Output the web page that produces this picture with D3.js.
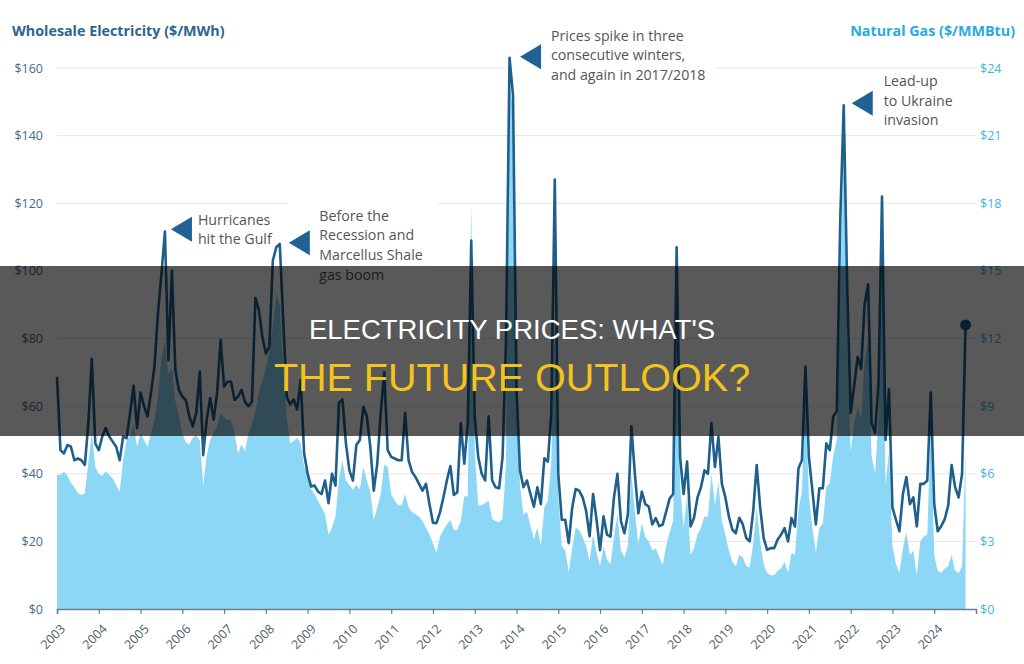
<!DOCTYPE html>
<html>
<head>
<meta charset="utf-8">
<script src="https://cdn.jsdelivr.net/npm/d3@7"></script>
<style>
  html, body { margin: 0; padding: 0; background: #fff; }
  svg { display: block; }
</style>
</head>
<body>
<div id="chart"></div>
<script>
// monthly values, Jan 2003 .. Oct 2024
const elecPrices = [
  68.7, 47, 46, 48.5, 48, 44, 44.5, 44, 42.6, 55, 74, 49,
  47, 51, 53.5, 51, 49.5, 48, 44, 51, 50.5, 58, 66, 53.5,
  64, 60, 57, 64, 71.7, 87.5, 99, 111.6, 73.6, 100, 70.7, 64.8,
  62.8, 61.8, 57, 54, 58, 70.2, 45.5, 56, 62.4, 56, 64, 79.6,
  65.8, 67.2, 67.2, 61.8, 62.8, 64.8, 61.3, 60, 61.3, 92, 88.4, 80.5,
  75.6, 77.6, 103, 107, 108, 85, 62.8, 60.5, 62, 59, 67.7, 46,
  40, 36.2, 36.5, 34.7, 34, 38, 31.3, 40, 36.5, 61, 62, 49,
  41, 38, 48.5, 50, 59.8, 57, 48, 35, 43, 58, 70, 47,
  45, 44.5, 44, 44, 58, 44, 40.5, 39, 37, 35, 37, 31,
  25.5, 25.4, 28.5, 33, 38, 42.3, 33.7, 34.5, 55, 43, 55, 109,
  57, 45, 40, 38, 57, 38, 36, 35.7, 45, 80, 163, 152,
  65, 41, 36, 38, 34, 30.3, 36, 31, 44.6, 43.6, 58, 127,
  40, 26.4, 26.4, 19.5, 30, 35.5, 35, 33, 29, 21.5, 34, 26.4,
  17.4, 27.4, 22, 21.4, 33, 40, 26, 22.4, 28, 54, 40, 28.3,
  34.7, 31, 30.3, 25, 26.9, 24.5, 25, 28.8, 32.7, 34, 107, 45,
  34, 43.6, 24.4, 27, 33, 36, 41, 40, 55, 42, 51, 37,
  33, 27.4, 23.5, 22.4, 27, 25, 21, 20, 29, 42.6, 30, 21,
  17.5, 18, 18, 20.5, 22, 23.9, 20, 26.9, 24.4, 41.6, 44, 71.7,
  45, 35, 25, 35.7, 35.7, 49, 47, 57, 58.4, 115, 149, 95,
  58, 66, 74.6, 71, 90, 96, 55, 52, 67, 122, 50, 65,
  30, 26.4, 23, 34, 39, 31, 33, 24.4, 37, 37, 38, 64,
  31, 23, 24.5, 26.5, 30.5, 42.6, 36, 33, 40, 84
];

const gasPrices = [
  5.95, 5.95, 6.1, 5.9, 5.6, 5.4, 5.15, 5.06, 5.13, 6.5, 7.8, 6.3,
  6.0, 5.9, 6.1, 5.95, 5.8, 5.5, 5.2, 6.6, 7.5, 7.7, 8.2, 7.2,
  7.8, 7.5, 7.2, 7.8, 8.4, 9.4, 11.1, 11.9, 10.4, 10.7, 9.2, 8.6,
  7.8, 7.4, 7.3, 7.6, 7.7, 7.5, 5.5, 6.8, 7.5, 7.8, 8.1, 8.7,
  8.5, 8.4, 8.4, 7.8, 6.9, 7.3, 7.0, 7.8, 8.2, 8.8, 9.6, 10.1,
  10.7, 11.5, 12.5, 14.0, 13.5, 10.7, 8.5, 7.35, 7.45, 7.6, 7.35, 6.3,
  6.0, 5.3, 5.1, 4.8, 4.5, 4.2, 3.3, 3.6, 4.1, 5.8, 6.6, 5.7,
  5.5, 5.3, 5.5, 5.3, 6.3, 5.7, 5.2, 3.95, 4.5, 5.1, 6.4, 6.3,
  5.1, 4.8, 4.6, 4.6, 5.1, 4.5, 4.3, 4.2, 4.1, 3.9, 3.6, 3.3,
  2.9, 2.5, 3.2, 3.5, 3.75, 3.95, 3.5, 3.5, 3.9, 5.0, 5.0, 18.0,
  7.0, 4.6, 4.6, 4.7, 4.8, 4.0, 3.9, 3.85, 4.0, 6.5, 23.5, 22.0,
  9.0, 5.5, 4.2, 4.3, 3.7, 3.1, 3.6, 2.8, 4.5, 4.8, 6.5, 13.0,
  5.0, 2.8, 2.6, 1.65, 2.7, 3.6, 3.5, 3.2, 2.8, 2.1, 3.3, 2.5,
  1.9, 2.8, 2.2, 2.0, 3.2, 4.2, 2.6, 2.3, 2.8, 6.0, 4.3, 2.9,
  3.8, 3.2, 3.0, 2.6, 2.7, 2.3, 1.95, 2.8, 3.4, 3.9, 14.0, 5.5,
  3.6, 5.0, 2.4, 2.7, 3.3, 3.6, 4.1, 4.1, 6.0, 4.6, 5.6, 3.9,
  3.3, 2.6, 2.1, 1.9, 2.4, 2.3, 1.9, 1.85, 2.9, 4.5, 3.0, 2.0,
  1.6, 1.5, 1.5, 1.7, 1.8, 2.1, 1.6, 2.5, 2.4, 4.4, 5.2, 9.5,
  5.0, 3.6, 2.5, 3.6, 3.8, 5.4, 5.6, 6.8, 7.5, 14.0, 21.0, 12.0,
  7.0, 8.2, 9.0, 8.5, 11.0, 12.0, 6.8, 6.0, 8.5, 17.0, 5.5, 7.0,
  2.8, 2.0, 1.6, 2.7, 3.4, 2.4, 2.6, 1.5, 3.0, 3.2, 3.3, 8.0,
  2.4, 1.7, 1.6, 1.8, 1.9, 2.4, 1.7, 1.6, 1.9, 7.0
];

const yearTicks = d3.range(2003, 2025);
const elecTicks = [0, 20, 40, 60, 80, 100, 120, 140, 160];
const gasTicks = [0, 3, 6, 9, 12, 15, 18, 21, 24];

// annotation text, tied to the month index of the peak it points at
const noteMonths = [31, 64, 130, 226];
const noteLines = [
  ["Hurricanes", "hit the Gulf"],
  ["Before the", "Recession and", "Marcellus Shale", "gas boom"],
  ["Prices spike in three", "consecutive winters,", "and again in 2017/2018"],
  ["Lead-up", "to Ukraine", "invasion"]
];

const layout = {
  width: 1024,
  height: 664,
  left: 57,
  right: 976,
  top: 68,
  bottom: 609
};

// where the arrow tip sits relative to the peak, and where the text starts relative to the tip
const notePlacement = [
  { tipDx: 6, tipDy: -2.5, textDx: 27, textDy: -4.5 },
  { tipDx: 9, tipDy: -1, textDx: 30.5, textDy: -22 },
  { tipDx: 10.5, tipDy: -1, textDx: 31, textDy: -16 },
  { tipDx: 8, tipDy: -2, textDx: 32, textDy: -17 }
];

const startYear = 2003;
const rows = elecPrices.map((e, i) => ({ t: startYear + i / 12, elec: e, gas: gasPrices[i] }));

const svg = d3.select("#chart").append("svg")
  .attr("width", layout.width)
  .attr("height", layout.height)
  .attr("viewBox", [0, 0, layout.width, layout.height].join(" "))
  .style("font-family", "'Open Sans', sans-serif");

svg.append("rect").attr("width", layout.width).attr("height", layout.height).attr("fill", "#fff");

const x = d3.scaleLinear().domain([2003, 2025]).range([layout.left, layout.right]);
const yElec = d3.scaleLinear().domain([0, 160]).range([layout.bottom, layout.top]);
const yGas = d3.scaleLinear().domain([0, 24]).range([layout.bottom, layout.top]);

// gridlines
svg.append("g").selectAll("line")
  .data(elecTicks.filter(d => d > 0))
  .join("line")
    .attr("x1", layout.left)
    .attr("x2", layout.right)
    .attr("y1", d => yElec(d))
    .attr("y2", d => yElec(d))
    .attr("stroke", "#e3e6e8")
    .attr("stroke-width", 1);

// white boxes behind the two annotations that cut the grid
svg.append("rect").attr("x", 287).attr("y", 196).attr("width", 151).attr("height", 92).attr("fill", "#fff");
svg.append("rect").attr("x", 510).attr("y", 26).attr("width", 206).attr("height", 60).attr("fill", "#fff");

// titles
svg.append("text")
  .attr("x", 12).attr("y", 36)
  .attr("font-size", 14.3).attr("font-weight", 700)
  .attr("fill", "#2d6490")
  .text("Wholesale Electricity ($/MWh)");
svg.append("text")
  .attr("x", 1015).attr("y", 36)
  .attr("text-anchor", "end")
  .attr("font-size", 14.3).attr("font-weight", 700)
  .attr("fill", "#2aaae2")
  .text("Natural Gas ($/MMBtu)");

// y axes
let leftAxis = svg.append("g")
  .attr("transform", `translate(${layout.left},0)`)
  .call(d3.axisLeft(yElec).tickValues(elecTicks).tickSize(0).tickPadding(14).tickFormat(d => "$" + d));
leftAxis.select(".domain").remove();
leftAxis.selectAll("text").attr("fill", "#3f6b8c").attr("font-size", 12.5).attr("font-family", "'Open Sans', sans-serif");

let rightAxis = svg.append("g")
  .attr("transform", `translate(${layout.right},0)`)
  .call(d3.axisRight(yGas).tickValues(gasTicks).tickSize(0).tickPadding(4).tickFormat(d => "$" + d));
rightAxis.select(".domain").remove();
rightAxis.selectAll("text").attr("fill", "#45b3e0").attr("font-size", 12.5).attr("font-family", "'Open Sans', sans-serif");

// gas area
svg.append("path")
  .datum(rows)
  .attr("fill", "#8dd7f6")
  .attr("d", d3.area()
    .x(d => x(d.t))
    .y0(yGas(0))
    .y1(d => yGas(d.gas)));

// electricity line
svg.append("path")
  .datum(rows)
  .attr("fill", "none")
  .attr("stroke", "#1f5f8c")
  .attr("stroke-width", 2.6)
  .attr("stroke-linejoin", "round")
  .attr("d", d3.line()
    .x(d => x(d.t))
    .y(d => yElec(d.elec)));

const last = rows[rows.length - 1];
svg.append("circle")
  .attr("cx", x(last.t))
  .attr("cy", yElec(last.elec))
  .attr("r", 5.5)
  .attr("fill", "#1f5f8c");

// x axis
let xAxis = svg.append("g")
  .attr("transform", `translate(0,${layout.bottom})`)
  .call(d3.axisBottom(x).tickValues(yearTicks).tickFormat(d3.format("d")).tickSize(5));
xAxis.select(".domain").attr("stroke", "#6d7f8c").attr("stroke-width", 1.5);
xAxis.selectAll(".tick line").attr("stroke", "#6d7f8c").attr("stroke-width", 1.2);
xAxis.selectAll("text")
  .attr("font-size", 12.5)
  .attr("font-family", "'Open Sans', sans-serif")
  .attr("fill", "#4f5d6a")
  .attr("text-anchor", "end")
  .attr("dy", 0)
  .attr("transform", "translate(3,15) rotate(-45)");

// annotations
noteMonths.forEach((m, i) => {
  const p = notePlacement[i];
  const tipX = x(startYear + m / 12) + p.tipDx;
  const tipY = yElec(elecPrices[m]) + p.tipDy;
  svg.append("path")
    .attr("d", `M${tipX},${tipY} L${tipX + 21},${tipY - 12.5} L${tipX + 21},${tipY + 12.5} Z`)
    .attr("fill", "#1f6293");
  const txt = svg.append("text")
    .attr("x", tipX + p.textDx)
    .attr("y", tipY + p.textDy)
    .attr("font-size", 14.2)
    .attr("fill", "#555");
  noteLines[i].forEach((l, k) => {
    txt.append("tspan").attr("x", tipX + p.textDx).attr("dy", k === 0 ? 0 : 19.6).text(l);
  });
});

// dark banner across the middle
svg.append("rect")
  .attr("x", 0).attr("y", 266)
  .attr("width", layout.width).attr("height", 170)
  .attr("fill", "rgba(0,0,0,0.65)");
svg.append("text")
  .attr("x", 512).attr("y", 339)
  .attr("text-anchor", "middle")
  .attr("font-family", "'Liberation Sans', Arial, sans-serif")
  .attr("font-size", 27.5)
  .attr("fill", "#fff")
  .text("ELECTRICITY PRICES: WHAT'S");
svg.append("text")
  .attr("x", 512).attr("y", 391)
  .attr("text-anchor", "middle")
  .attr("font-family", "'Liberation Sans', Arial, sans-serif")
  .attr("font-size", 39.5)
  .attr("fill", "#f5c41c")
  .text("THE FUTURE OUTLOOK?");
</script>
</body>
</html>
